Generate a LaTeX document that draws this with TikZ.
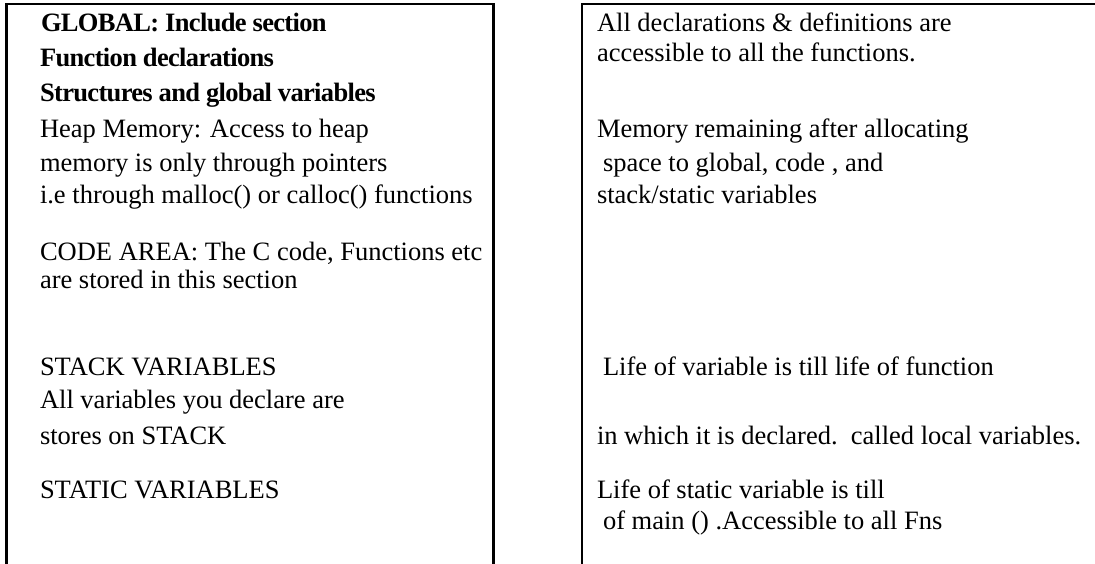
\documentclass[tikz,border=0pt]{standalone}
\usepackage{fontspec}
\setmainfont{Liberation Serif}
\begin{document}
\begin{tikzpicture}[x=1pt,y=-1pt,
  frame/.style={line width=2.6pt,line join=miter},
  txt/.style={anchor=base west,inner sep=0pt,outer sep=0pt,font=\fontsize{26.5}{30}\selectfont},
  btxt/.style={txt,font=\fontsize{26.5}{30}\selectfont\bfseries\addfontfeature{LetterSpace=-2.5}}]
\useasboundingbox (0,0) rectangle (1095,563);
% memory-area column (open at the bottom)
\draw[frame] (6.5,565) -- (6.5,4) -- (493.5,4) -- (493.5,565);
% description column (runs off the right edge)
\draw[frame] (582,565) -- (582,4) -- (1097,4);

% left column texts
\node[btxt] (g1) at (41,31)  {GLOBAL: Include section};
\node[btxt] (g2) at (40,66)  {Function declarations};
\node[btxt] (g3) at (40,101) {Structures and global variables};
\node[txt]  (h1) at (40,137) {Heap Memory: Access to heap};
\node[txt]  (h2) at (40,171) {memory is only through pointers};
\node[txt]  (h3) at (40,203) {i.e through malloc() or calloc() functions};
\node[txt]  (c1) at (40,260) {CODE AREA: The C code, Functions etc};
\node[txt]  (c2) at (40,288) {are stored in this section};
\node[txt]  (s1) at (40,375) {STACK VARIABLES};
\node[txt]  (s2) at (40,408) {All variables you declare are};
\node[txt]  (s3) at (40,444) {stores on STACK};
\node[txt]  (t1) at (40,498) {STATIC VARIABLES};

% right column texts
\node[txt] (r1) at (597,31)  {All declarations \& definitions are};
\node[txt] (r2) at (597,61)  {accessible to all the functions.};
\node[txt] (r3) at (597,137) {Memory remaining after allocating};
\node[txt] (r4) at (603,171) {space to global, code , and};
\node[txt] (r5) at (597,203) {stack/static variables};
\node[txt] (r6) at (603,375) {Life of variable is till life of function};
\node[txt] (r7) at (597,444) {in which it is declared.\ \ called local variables.};
\node[txt] (r8) at (597,498) {Life of static variable is till};
\node[txt] (r9) at (603,529) {of main () .Accessible to all Fns};
\end{tikzpicture}
\end{document}
